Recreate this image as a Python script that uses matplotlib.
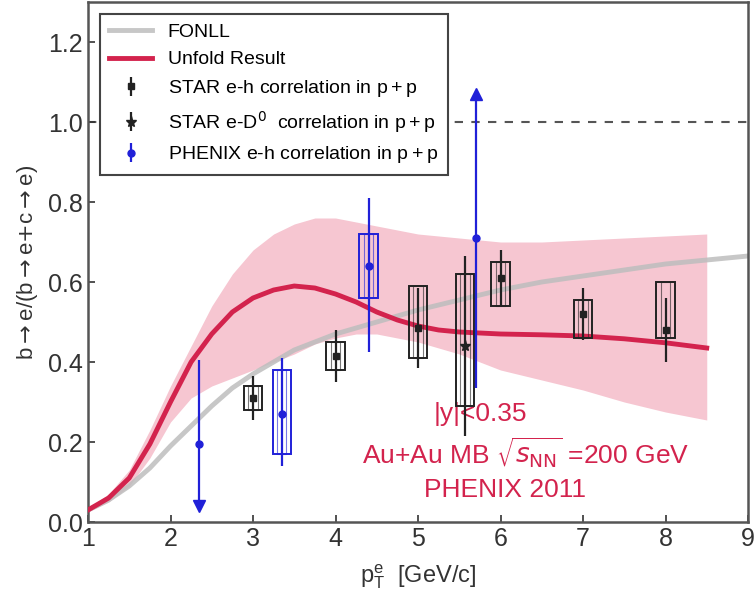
import matplotlib
matplotlib.use("Agg")
import matplotlib.pyplot as plt
from matplotlib.patches import Rectangle
import numpy as np

plt.rcParams["font.family"] = ["Liberation Sans", "DejaVu Sans"]
plt.rcParams["mathtext.fontset"] = "dejavusans"

RED = "#d3234d"
BAND = "#f3b3c2"
GREY = "#bdbdbd"
BLUE = "#2020d8"

# FONLL reference curve
fonll_pt = [1.0, 1.25, 1.5, 1.75, 2.0, 2.25, 2.5, 2.75, 3.0, 3.5, 4.0, 4.5, 5.0, 5.5, 6.0, 6.5,
            7.0, 7.5, 8.0, 8.5, 9.0]
fonll_r = [0.03, 0.055, 0.09, 0.135, 0.19, 0.24, 0.29, 0.335, 0.37, 0.43, 0.47, 0.50, 0.53, 0.555,
           0.58, 0.60, 0.615, 0.63, 0.645, 0.655, 0.665]

# unfolded result and its uncertainty band
unf_pt = [1.0, 1.25, 1.5, 1.75, 2.0, 2.25, 2.5, 2.75, 3.0, 3.25, 3.5, 3.75, 4.0, 4.25, 4.5, 4.75, 5.0,
          5.25, 5.5, 6.0, 6.5, 7.0, 7.5, 8.0, 8.5]
unf_r = [0.03, 0.06, 0.11, 0.195, 0.30, 0.40, 0.47, 0.525, 0.56, 0.58, 0.59, 0.585, 0.57, 0.55,
         0.525, 0.505, 0.49, 0.48, 0.475, 0.47, 0.468, 0.465, 0.458, 0.448, 0.435]
unf_lo = [0.025, 0.05, 0.09, 0.16, 0.25, 0.31, 0.34, 0.36, 0.38, 0.40, 0.42, 0.445, 0.46, 0.47,
          0.47, 0.46, 0.45, 0.435, 0.42, 0.38, 0.355, 0.33, 0.30, 0.275, 0.255]
unf_hi = [0.035, 0.07, 0.13, 0.23, 0.34, 0.44, 0.54, 0.62, 0.68, 0.72, 0.745, 0.76, 0.76, 0.75,
          0.74, 0.73, 0.72, 0.715, 0.71, 0.70, 0.70, 0.705, 0.71, 0.715, 0.72]

# STAR e-h correlation in p+p
star_pt = [3.0, 4.0, 5.0, 6.0, 7.0, 8.0]
star_r = [0.31, 0.415, 0.485, 0.61, 0.52, 0.48]
star_stat = [0.055, 0.065, 0.10, 0.07, 0.065, 0.08]
star_sys_lo = [0.28, 0.38, 0.41, 0.54, 0.46, 0.46]
star_sys_hi = [0.34, 0.45, 0.59, 0.65, 0.555, 0.60]

# STAR e-D0 correlation in p+p
stard_pt = [5.57]
stard_r = [0.44]
stard_stat = [0.225]
stard_sys_lo = [0.29]
stard_sys_hi = [0.62]

# PHENIX e-h correlation in p+p
phx_pt = [2.35, 3.35, 4.4, 5.7]
phx_r = [0.195, 0.27, 0.64, 0.71]
phx_lo = [0.04, 0.14, 0.425, 0.335]
phx_hi = [0.405, 0.41, 0.81, 1.07]
phx_sys_lo = [None, 0.17, 0.56, None]
phx_sys_hi = [None, 0.38, 0.72, None]

fig = plt.figure(figsize=(7.55, 5.93), dpi=100)
ax = fig.add_axes([88 / 755, 71 / 593, 660 / 755, 520 / 593])

ax.axhline(1.0, color="#555555", ls=(0, (4, 4)), lw=1.5, zorder=1)
ax.fill_between(unf_pt, unf_lo, unf_hi, color=BAND, lw=0, alpha=0.75, zorder=1)
ax.plot(fonll_pt, fonll_r, color=GREY, lw=3.5, alpha=0.85, zorder=2, label="FONLL")
ax.plot(unf_pt, unf_r, color=RED, lw=3.5, zorder=3, label="Unfold Result")


def sys_boxes(xs, los, his, color, width=0.22):
    for x, lo, hi in zip(xs, los, his):
        if lo is None:
            continue
        ax.add_patch(Rectangle((x - width / 2, lo), width, hi - lo, fill=False,
                               ec=color, lw=1.4, zorder=4))
        ax.add_patch(Rectangle((x - width / 4, lo), width / 2, hi - lo, fill=False,
                               ec=color, lw=0.8, alpha=0.6, zorder=4))


sys_boxes(star_pt, star_sys_lo, star_sys_hi, "#222222")
sys_boxes(stard_pt, stard_sys_lo, stard_sys_hi, "#222222")
sys_boxes(phx_pt, phx_sys_lo, phx_sys_hi, BLUE)

ax.errorbar(star_pt, star_r, yerr=star_stat, fmt="s", ms=5, color="#222222",
            elinewidth=1.6, capsize=0, zorder=5, label=r"STAR e-h correlation in $\mathregular{p+p}$")
ax.errorbar(stard_pt, stard_r, yerr=stard_stat, fmt="*", ms=8, color="#222222",
            elinewidth=1.6, capsize=0, zorder=5, label=r"STAR e-D$^0$  correlation in $\mathregular{p+p}$")

phx_err = [np.array(phx_r) - np.array(phx_lo), np.array(phx_hi) - np.array(phx_r)]
ax.errorbar(phx_pt, phx_r, yerr=phx_err, fmt="o", ms=5, color=BLUE,
            elinewidth=1.6, capsize=0, zorder=5, label=r"PHENIX e-h correlation in $\mathregular{p+p}$")
# limit arrows on the outer PHENIX points
ax.plot([phx_pt[0]], [phx_lo[0]], marker="v", ms=8, color=BLUE, zorder=6)
ax.plot([phx_pt[3]], [phx_hi[3]], marker="^", ms=8, color=BLUE, zorder=6)

ax.text(5.75, 0.27, "|y|<0.35", color=RED, fontsize=19, ha="center", va="center")
ax.text(6.3, 0.175, r"Au+Au MB $\sqrt{s_{\rm NN}}$ =200 GeV", color=RED, fontsize=19,
        ha="center", va="center")
ax.text(6.05, 0.08, "PHENIX 2011", color=RED, fontsize=19, ha="center", va="center")

ax.set_xlim(1, 9)
ax.set_ylim(0, 1.3)
ax.set_xticks(range(1, 10))
ax.set_yticks(np.arange(0, 1.21, 0.2))
ax.set_yticklabels([f"{v:.1f}" for v in np.arange(0, 1.21, 0.2)])
ax.tick_params(direction="in", labelsize=18, colors="#333333", length=5, width=1.2)
for s in ax.spines.values():
    s.set_color("#555555")
    s.set_linewidth(1.8)

ax.set_xlabel(r"$\mathregular{p_T^e}$  [GeV/c]", fontsize=17, color="#333333", labelpad=8)
ax.set_ylabel(r"b$\rightarrow$e/(b$\rightarrow$e$+$c$\rightarrow$e)", fontsize=16,
              color="#333333", labelpad=6)

leg = ax.legend(loc="upper left", fontsize=14, frameon=True, fancybox=False,
                borderpad=0.5, labelspacing=0.5, handlelength=2.2, borderaxespad=0.6)
leg.get_frame().set_edgecolor("#444444")
leg.get_frame().set_linewidth(1.5)
leg.get_frame().set_alpha(1)

fig.savefig("out.png", dpi=100)
